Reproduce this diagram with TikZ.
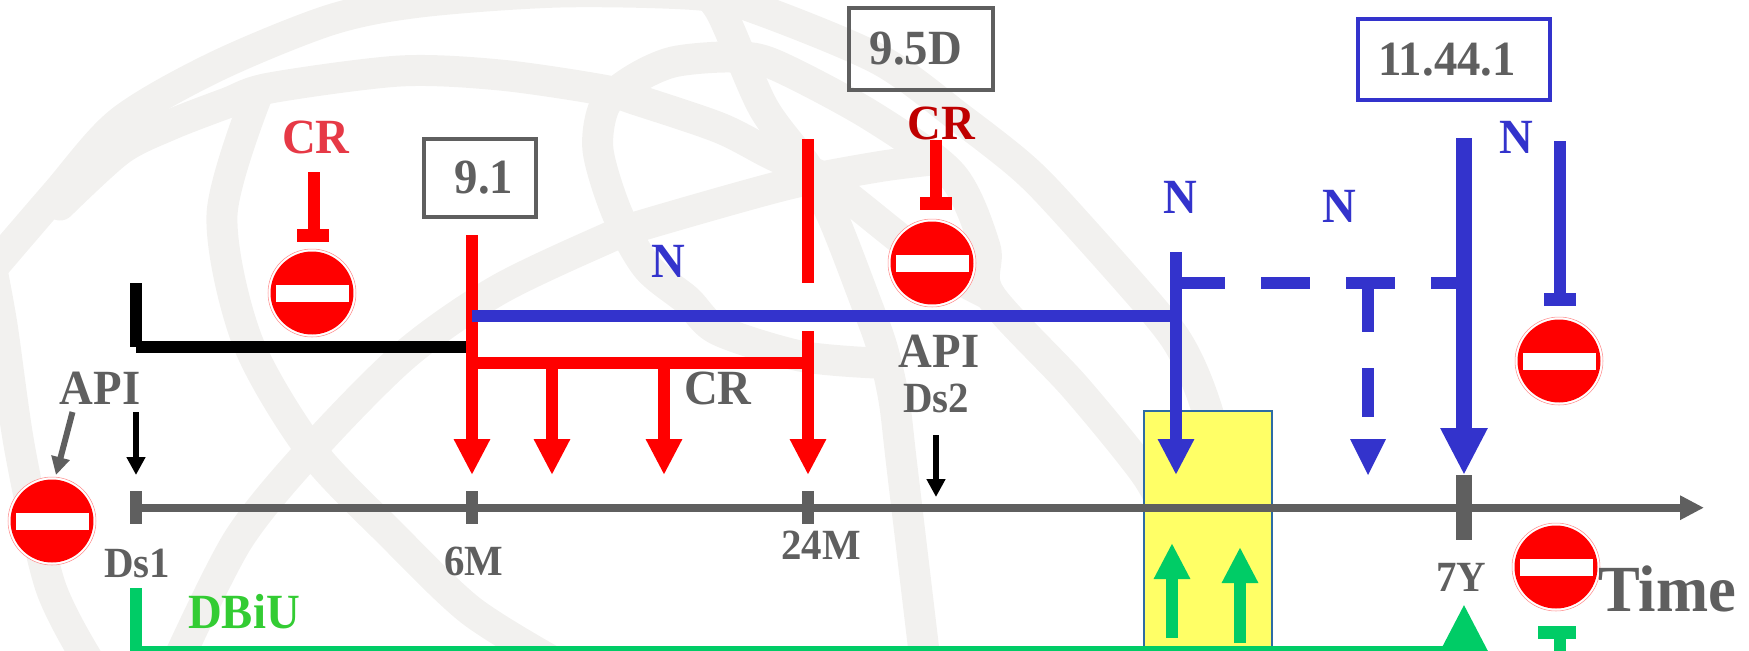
\documentclass[tikz,border=0pt]{standalone}
\usepackage{fontspec}
\setmainfont{Liberation Serif}[FakeStretch=0.95]
\usetikzlibrary{arrows.meta}
\definecolor{bandgray}{HTML}{F2F1EF}
\definecolor{labelgray}{HTML}{5F5F5F}
\definecolor{nblue}{HTML}{3333CC}
\definecolor{crred}{HTML}{E63946}
\definecolor{crdark}{HTML}{BF0000}
\definecolor{dbgreen}{HTML}{00CC66}
\definecolor{dbtext}{HTML}{33CC33}
\definecolor{zoneyellow}{HTML}{FFFF66}
\definecolor{zoneedge}{HTML}{2E6CA4}
\begin{document}
\begin{tikzpicture}[x=0.02cm, y=-0.02cm,
    band/.style={draw=bandgray, line width=0.62cm, line cap=round},
    lbl/.style={font=\fontsize{28}{30}\selectfont\bfseries, anchor=base, inner sep=0pt, text=labelgray},
    sublbl/.style={lbl, font=\fontsize{24.5}{27}\selectfont\bfseries},
    relbox/.style={draw=#1, line width=0.08cm, inner sep=0pt, text=labelgray, font=\fontsize{28}{30}\selectfont\bfseries},
    nosign/.style={circle, draw=red!45, line width=0.3pt, fill=white, minimum size=1.76cm, inner sep=0pt,
        path picture={\fill[red] (path picture bounding box.center) circle (0.83cm);
            \fill[white, shift={(path picture bounding box.center)}] (-36.5,-8.5) rectangle (36.5,8.5);}},
    bar/.style={draw=#1, line width=0.24cm},
    thickbar/.style={draw=#1, line width=0.32cm},
    arr/.style={draw=#1, line width=0.24cm, -{Triangle[length=0.72cm,width=0.68cm,fill=#1]}},
    bigarr/.style={draw=#1, line width=0.32cm, -{Triangle[length=0.94cm,width=0.88cm,fill=#1]}},
    smallarr/.style={draw=#1, line width=0.12cm, -{Triangle[length=0.36cm,width=0.36cm,fill=#1]}}]
    \clip (0,0) rectangle (1749,650);

    % Watermark
    \draw [band] plot [smooth] coordinates {(88,660) (50,585) (20,450) (2,325) (-10,260)};
    \draw [band] plot [smooth] coordinates {(-18,280) (55,195) (120,122) (215,67) (330,20) (420,2) (560,-8) (700,-5) (760,10) (880,60) (960,118) (1020,165) (1060,205) (1155,312) (1185,355) (1208,413) (1235,520)};
    \draw [band] plot [smooth] coordinates {(60,205) (120,150) (170,125) (227,103) (270,88) (400,71) (500,75) (603,90) (637,100) (720,128) (773,155) (825,178)};
    \draw [band] plot [smooth] coordinates {(256,98) (222,215) (247,340) (311,450) (392,535) (470,610) (550,660)};
    \draw [band] plot [smooth] coordinates {(178,660) (238,540) (311,450) (405,355) (498,290) (610,237) (643,225) (785,185) (877,167) (932,160)};
    \draw [band] plot [smooth] coordinates {(875,363) (800,356) (718,330) (687,300) (647,267) (617,213) (598,150) (605,105) (633,80) (673,62) (730,57) (773,64) (870,115) (952,175) (985,247) (990,295) (1075,387) (1145,473) (1170,520)};
    \draw [band] plot [smooth] coordinates {(690,-20) (720,10) (763,107) (807,167) (834,220) (865,300) (882,347) (894,400) (902,467) (925,660)};
    \draw [band] plot [smooth] coordinates {(825,178) (858,205) (932,263) (990,295)};

    % Nodes
    \node [rectangle, draw=zoneedge, line width=0.7pt, fill=zoneyellow, minimum width=2.56cm, minimum height=4.8cm, inner sep=0pt] (zone) at (1208,531) {};

    \node [relbox=labelgray, minimum width=2.24cm, minimum height=1.56cm] (rel91) at (480,178) {\hspace{0.16cm}9.1};
    \node [relbox=labelgray, minimum width=2.88cm, minimum height=1.64cm] (rel95d) at (921,49) {9.5D\kern0.2cm};
    \node [relbox=nblue, minimum width=3.84cm, minimum height=1.62cm] (rel1144) at (1454,59.5) {11.44.1\kern0.28cm};

    \node [nosign] (signcr) at (312,293) {};
    \node [nosign] (signapi) at (52,521) {};
    \node [nosign] (signcrtwo) at (932,263) {};
    \node [nosign] (signn) at (1559,361) {};
    \node [nosign] (signtime) at (1556,567) {};

    \node [lbl, text=crred] (crleft) at (316,153) {CR};
    \node [lbl, text=crdark] (crmid) at (941,139) {CR};
    \node [lbl] (crlow) at (718,404) {CR};
    \node [lbl, text=nblue] (nleft) at (668,277) {N};
    \node [lbl, text=nblue] (nmid) at (1180,213) {N};
    \node [lbl, text=nblue] (ndash) at (1339,222) {N};
    \node [lbl, text=nblue] (nright) at (1516,153) {N};
    \node [lbl] (apileft) at (100,404) {API};
    \node [lbl] (apimid) at (939,367) {API};
    \node [sublbl] (dsone) at (137,577) {Ds1};
    \node [sublbl] (dstwo) at (936,412) {Ds2};
    \node [sublbl] (msix) at (474,575) {6M};
    \node [sublbl] (mtwentyfour) at (821,559) {24M};
    \node [sublbl] (yseven) at (1461,591) {7Y};
    \node [lbl, text=dbtext] (dbiu) at (244,628) {DBiU};
    \node [lbl, font=\fontsize{37.5}{40}\selectfont\bfseries] (timelbl) at (1667,611) {Time};

    % Anchors on the time line
    \coordinate (tds) at (136,507.7);
    \coordinate (tsix) at (472,507.7);
    \coordinate (ttwentyfour) at (808,507.7);
    \coordinate (tseven) at (1464,507.7);
    \coordinate (tend) at (1704,507.7);

    % Time line
    \draw [labelgray, line width=0.166cm, -{Triangle[length=0.48cm,width=0.46cm]}] (tds) -- (tend);
    \draw [bar=labelgray] (136,491) -- (136,524);
    \draw [bar=labelgray] (472,491) -- (472,524);
    \draw [bar=labelgray] (808,491) -- (808,524);
    \draw [thickbar=labelgray] (1464,475) -- (1464,540);

    % Ds1 path
    \coordinate (lsix) at (466,347);
    \coordinate (ltop) at (136,283);
    \coordinate (lcorner) at (136,347);
    \draw [bar=black] (ltop) -- (lcorner);
    \draw [bar=black] (lcorner) -- (lsix);

    % CR paths
    \coordinate (crsix) at (472,235);
    \coordinate (crbarl) at (472,363);
    \coordinate (crbarr) at (808,363);
    \draw [arr=red] (crsix) -- (472,475);
    \draw [bar=red] (crbarl) -- (crbarr);
    \draw [arr=red] (552,363) -- (552,475);
    \draw [arr=red] (664,363) -- (664,475);
    \draw [arr=red] (808,331) -- (808,475);
    \draw [bar=red] (808,139) -- (808,283);

    \draw [bar=red] (314,172) -- (314,241);
    \draw [draw=red, line width=0.26cm] (297,235) -- (329,235);
    \draw [bar=red] (936,140) -- (936,210);
    \draw [draw=red, line width=0.26cm] (920,203.5) -- (952,203.5);

    % N paths
    \draw [bar=nblue] (472,315.5) -- (1176,315.5);
    \draw [arr=nblue] (1176,252) -- (1176,475);
    \draw [bar=nblue] (1182,283) -- (1225,283);
    \draw [bar=nblue] (1261,283) -- (1310,283);
    \draw [bar=nblue] (1346,283) -- (1395,283);
    \draw [bar=nblue] (1431,283) -- (1456,283);
    \draw [bar=nblue] (1368,289) -- (1368,332);
    \draw [bar=nblue] (1368,368) -- (1368,417);
    \fill [nblue] (1350,439) -- (1386,439) -- (1368,475) -- cycle;
    \draw [bigarr=nblue] (1464,138) -- (1464,475);
    \draw [bar=nblue] (1560,141) -- (1560,306);
    \draw [draw=nblue, line width=0.26cm] (1544,299.5) -- (1576,299.5);

    % API arrows
    \draw [smallarr=black] (136,412) -- (136,475);
    \draw [smallarr=black] (936,435) -- (936,497);
    \draw [smallarr=labelgray] (72.5,412) -- (56,475);

    % DBiU path
    \coordinate (dbcorner) at (136,652);
    \draw [bar=dbgreen] (136,588) -- (dbcorner) -- (1450,652);
    \draw [arr=dbgreen] (1172,638) -- (1172,543);
    \draw [arr=dbgreen] (1240,643) -- (1240,547);
    \draw [bigarr=dbgreen] (1464,660) -- (1464,604);
    \draw [bar=dbgreen] (1560,632) -- (1560,660);
    \draw [draw=dbgreen, line width=0.26cm] (1538,632) -- (1576,632);
\end{tikzpicture}
\end{document}
